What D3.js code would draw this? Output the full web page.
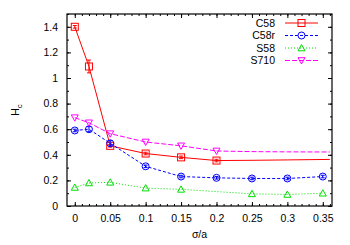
<!DOCTYPE html>
<meta charset="utf-8">
<style>
    html, body { margin: 0; padding: 0; background: #fff; }
    svg { display: block; font-family: "Liberation Sans", Arial, sans-serif; }
    .axis path, .axis line { stroke: #000; }
    .axis text { font-size: 10.5px; fill: #000; }
</style>
<body>
<div id="chart"></div>
<script src="https://cdnjs.cloudflare.com/ajax/libs/d3/7.8.5/d3.min.js"></script>
<script>
    // data
    var xTicks = [0, 0.05, 0.1, 0.15, 0.2, 0.25, 0.3, 0.35];
    var yTicks = [0, 0.2, 0.4, 0.6, 0.8, 1, 1.2, 1.4];

    var c58 = [
        {x: 0, y: 1.40, e: 0.01}, {x: 0.02, y: 1.09, e: 0.05}, {x: 0.05, y: 0.47, e: 0.01},
        {x: 0.1, y: 0.41, e: 0.01}, {x: 0.15, y: 0.38, e: 0.01}, {x: 0.2, y: 0.355, e: 0.01}
    ];
    var c58Tail = [{x: 0.2, y: 0.355}, {x: 0.25, y: 0.357}, {x: 0.3, y: 0.36}, {x: 0.36, y: 0.364}];

    var c58r = [
        {x: 0, y: 0.59, e: 0.01}, {x: 0.02, y: 0.60, e: 0.02}, {x: 0.05, y: 0.49, e: 0.02},
        {x: 0.1, y: 0.31, e: 0.01}, {x: 0.15, y: 0.23, e: 0.01}, {x: 0.2, y: 0.22, e: 0.01},
        {x: 0.25, y: 0.215, e: 0.01}, {x: 0.3, y: 0.215, e: 0.01}, {x: 0.35, y: 0.23, e: 0.01}
    ];

    var s58 = [
        {x: 0, y: 0.145}, {x: 0.02, y: 0.18}, {x: 0.05, y: 0.185}, {x: 0.1, y: 0.14},
        {x: 0.15, y: 0.13}, {x: 0.25, y: 0.095}, {x: 0.3, y: 0.09}, {x: 0.35, y: 0.10}
    ];

    var s710 = [
        {x: 0, y: 0.69}, {x: 0.02, y: 0.65}, {x: 0.05, y: 0.565}, {x: 0.1, y: 0.50},
        {x: 0.15, y: 0.47}, {x: 0.2, y: 0.43}
    ];
    var s710Tail = [{x: 0.2, y: 0.43}, {x: 0.25, y: 0.425}, {x: 0.3, y: 0.423}, {x: 0.36, y: 0.422}];

    var series = [
        {name: "C58", color: "#ff0000", dash: null, marker: "square", pts: c58, tail: c58Tail},
        {name: "C58r", color: "#0000ff", dash: "3,2", marker: "circle", pts: c58r, tail: null},
        {name: "S58", color: "#00dd00", dash: "1,2", marker: "up", pts: s58, tail: null},
        {name: "S710", color: "#ff00ff", dash: "5,2", marker: "down", pts: s710, tail: s710Tail}
    ];

    var W = 350, H = 245;
    var margin = {top: 14, right: 18, bottom: 39, left: 67},
        width = W - margin.left - margin.right,
        height = H - margin.top - margin.bottom;

    var x = d3.scaleLinear().domain([-0.011, 0.363]).range([0, width]);
    var y = d3.scaleLinear().domain([0, 1.5]).range([height, 0]);

    var svg = d3.select("#chart").append("svg")
        .attr("width", W)
        .attr("height", H);

    var g = svg.append("g")
        .attr("transform", "translate(" + margin.left + "," + margin.top + ")");

    var minorX = d3.range(0, 0.3601, 0.01);
    var minorY = d3.range(0, 1.501, 0.1);

    // inner ticks on all sides
    function ticks(sel, axis) {
        sel.call(axis).call(function(s) { s.select(".domain").remove(); });
    }
    g.append("g").attr("class", "axis").attr("transform", "translate(0," + height + ")")
        .call(ticks, d3.axisBottom(x).tickValues(xTicks).tickSizeInner(-4).tickSizeOuter(0).tickPadding(9).tickFormat(d3.format("")));
    g.append("g").attr("class", "axis").attr("transform", "translate(0," + height + ")")
        .call(ticks, d3.axisBottom(x).tickValues(minorX).tickSize(-2).tickFormat(""));
    g.append("g").attr("class", "axis")
        .call(ticks, d3.axisTop(x).tickValues(xTicks).tickSize(-4).tickFormat(""));
    g.append("g").attr("class", "axis")
        .call(ticks, d3.axisTop(x).tickValues(minorX).tickSize(-2).tickFormat(""));

    g.append("g").attr("class", "axis")
        .call(ticks, d3.axisLeft(y).tickValues(yTicks).tickSize(-4).tickPadding(9).tickFormat(d3.format("")));
    g.append("g").attr("class", "axis")
        .call(ticks, d3.axisLeft(y).tickValues(minorY).tickSize(-2).tickFormat(""));
    g.append("g").attr("class", "axis").attr("transform", "translate(" + width + ",0)")
        .call(ticks, d3.axisRight(y).tickValues(yTicks).tickSize(-4).tickFormat(""));
    g.append("g").attr("class", "axis").attr("transform", "translate(" + width + ",0)")
        .call(ticks, d3.axisRight(y).tickValues(minorY).tickSize(-2).tickFormat(""));

    g.selectAll(".axis text").style("font-size", "10.5px");

    var line = d3.line().x(function(d) { return x(d.x); }).y(function(d) { return y(d.y); });

    function drawMarker(sel, type, color, cx, cy) {
        var s = 3.5;
        var p;
        if (type === "square") {
            sel.append("rect").attr("x", cx - s).attr("y", cy - s).attr("width", 2 * s).attr("height", 2 * s)
                .attr("fill", "none").attr("stroke", color).attr("stroke-width", 1);
        } else if (type === "circle") {
            sel.append("circle").attr("cx", cx).attr("cy", cy).attr("r", s)
                .attr("fill", "none").attr("stroke", color).attr("stroke-width", 1);
        } else {
            var d = type === "up" ? -1 : 1;
            p = [[cx, cy + d * s], [cx - s, cy - d * s * 0.8], [cx + s, cy - d * s * 0.8]];
            sel.append("path").attr("d", "M" + p.join("L") + "Z")
                .attr("fill", "none").attr("stroke", color).attr("stroke-width", 1);
        }
    }

    var plot = g.append("g");
    series.forEach(function(s) {
        if (s.tail) {
            plot.append("path").datum(s.tail)
                .attr("d", d3.line().curve(d3.curveMonotoneX).x(function(d) { return x(d.x); }).y(function(d) { return y(d.y); }))
                .attr("fill", "none").attr("stroke", s.color).attr("stroke-width", 1)
                .attr("stroke-dasharray", s.dash);
        }
        plot.append("path").datum(s.pts)
            .attr("d", line)
            .attr("fill", "none").attr("stroke", s.color).attr("stroke-width", 1)
            .attr("stroke-dasharray", s.dash);
        s.pts.forEach(function(d) {
            if (d.e) {
                var px = x(d.x), y0 = y(d.y - d.e), y1 = y(d.y + d.e);
                plot.append("line").attr("x1", px).attr("x2", px).attr("y1", y0).attr("y2", y1)
                    .attr("stroke", s.color);
                plot.append("line").attr("x1", px - 2).attr("x2", px + 2).attr("y1", y0).attr("y2", y0).attr("stroke", s.color);
                plot.append("line").attr("x1", px - 2).attr("x2", px + 2).attr("y1", y1).attr("y2", y1).attr("stroke", s.color);
            }
            drawMarker(plot, s.marker, s.color, x(d.x), y(d.y));
        });
    });

    // frame
    g.append("rect").attr("width", width).attr("height", height)
        .attr("fill", "none").attr("stroke", "#000").attr("stroke-width", 1.2);

    // legend
    var legend = g.append("g").attr("transform", "translate(" + (275 - margin.left) + "," + (23 - margin.top) + ")");
    series.forEach(function(s, i) {
        var row = legend.append("g").attr("transform", "translate(0," + (i * 12.5) + ")");
        row.append("text").attr("x", 0).attr("y", 0).attr("dy", "0.35em")
            .attr("text-anchor", "end").style("font-size", "10.5px").text(s.name);
        row.append("line").attr("x1", 10).attr("x2", 43).attr("y1", 0).attr("y2", 0)
            .attr("stroke", s.color).attr("stroke-dasharray", s.dash);
        drawMarker(row, s.marker, s.color, 26.5, 0);
    });

    // axis labels
    svg.append("text")
        .attr("x", margin.left + width / 2)
        .attr("y", 238)
        .attr("text-anchor", "middle")
        .style("font-size", "10.5px")
        .text("σ/a");

    var yl = svg.append("text")
        .attr("transform", "translate(19,110) rotate(-90)")
        .attr("text-anchor", "middle")
        .style("font-size", "10.5px");
    yl.append("tspan").text("H");
    yl.append("tspan").attr("dy", 3).style("font-size", "8px").text("c");
</script>
</body>
